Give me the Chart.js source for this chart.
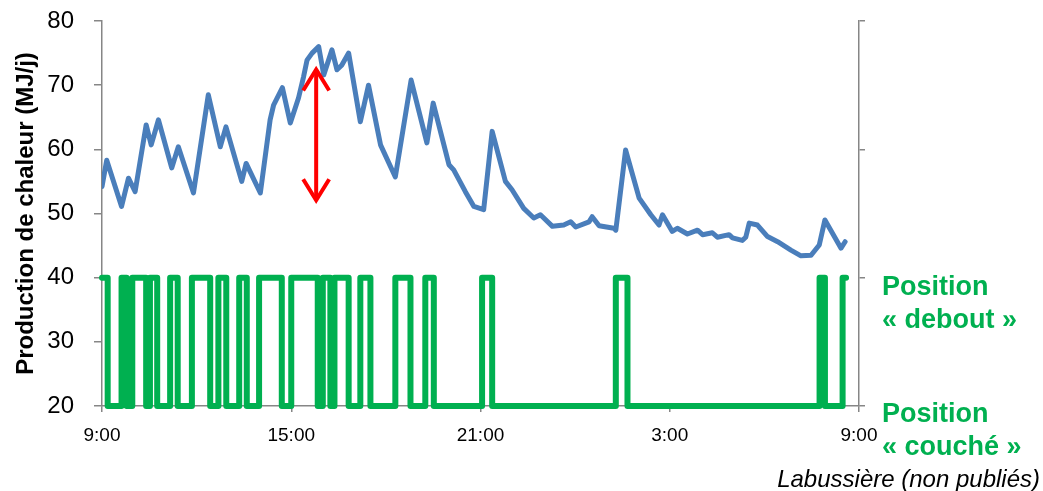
<!DOCTYPE html>
<html>
<head>
<meta charset="utf-8">
<script src="https://cdn.jsdelivr.net/npm/chart.js@4.4.1/dist/chart.umd.min.js"></script>
<style>
  html, body { margin: 0; padding: 0; background: #fff; }
  #wrap { width: 1043px; height: 491px; position: relative; }
</style>
</head>
<body>
<div id="wrap"><canvas id="heatChart"></canvas></div>
<script>
// heat production (MJ/j), time in hours from 9:00 (24 = midnight)
const heatTimes = [
  9.00, 9.15, 9.62, 9.84, 10.05, 10.40, 10.56, 10.79, 11.21, 11.42,
  11.90, 12.37, 12.75, 12.93, 13.43, 13.57, 14.02, 14.33, 14.44, 14.72,
  14.97, 15.23, 15.39, 15.50, 15.66, 15.87, 16.03, 16.29, 16.45, 16.60,
  16.82, 17.19, 17.45, 17.83, 18.30, 18.80, 19.30, 19.50, 20.00, 20.15,
  20.52, 20.79, 21.10, 21.37, 21.79, 22.00, 22.37, 22.69, 22.90, 23.28,
  23.64, 23.86, 24.02, 24.44, 24.54, 24.76, 25.23, 25.29, 25.60, 26.03,
  26.40, 26.66, 26.77, 27.08, 27.24, 27.56, 27.88, 28.04, 28.35, 28.51,
  28.88, 28.99, 29.30, 29.41, 29.52, 29.78, 30.10, 30.42, 30.84, 31.16,
  31.48, 31.74, 31.92, 32.43, 32.56
];
const heatValues = [
  54.2, 58.3, 51.1, 55.5, 53.4, 63.8, 60.7, 64.6, 57.1, 60.4,
  53.2, 68.5, 60.4, 63.5, 55.0, 57.8, 53.2, 64.6, 66.9, 69.6,
  64.1, 68.0, 71.3, 73.9, 75.0, 76.0, 71.6, 75.5, 72.4, 73.1,
  75.0, 64.3, 70.0, 60.7, 55.7, 70.8, 61.0, 67.2, 57.6, 56.8,
  53.4, 51.1, 50.6, 62.8, 55.0, 53.7, 50.8, 49.3, 49.8, 48.0,
  48.2, 48.7, 47.9, 48.7, 49.5, 48.1, 47.7, 47.4, 59.9, 52.4,
  49.8, 48.2, 49.8, 47.2, 47.7, 46.8, 47.4, 46.7, 47.0, 46.3,
  46.7, 46.2, 45.8, 46.3, 48.5, 48.2, 46.4, 45.6, 44.3, 43.4,
  43.5, 45.1, 49.0, 44.6, 45.6
];

// posture: 1 = debout, 0 = couché (state starting at each time)
const postureTimes = [
  9.00, 9.18, 9.62, 9.78, 9.96, 10.40, 10.52, 10.75, 11.16, 11.40,
  11.85, 12.43, 12.69, 12.94, 13.35, 13.59, 13.98, 14.70, 15.00, 15.84,
  16.00, 16.24, 16.37, 16.82, 17.19, 17.51, 18.30, 18.78, 19.25, 19.52,
  21.05, 21.37, 25.29, 25.66, 31.75, 31.92, 32.48, 32.59
];
const postureStates = [
  1, 0, 1, 0, 1, 0, 1, 0, 1, 0,
  1, 0, 1, 0, 1, 0, 1, 0, 1, 0,
  1, 0, 1, 0, 1, 0, 1, 0, 1, 0,
  1, 0, 1, 0, 1, 0, 1, 1
];

const xTickHours = [9, 15, 21, 27, 33];
const yMin = 20, yMax = 80;

// red arrow (amplitude annotation)
const arrowTime = 15.79;
const arrowTop = 72.6;
const arrowBottom = 51.9;

const sourceText = 'Labussière (non publiés)';

const axisGrey = '#868686';

const overlay = {
  id: 'overlay',
  afterDatasetsDraw(chart) {
    const { ctx, scales: { x, y } } = chart;
    const ax = x.getPixelForValue(arrowTime);
    const top = y.getPixelForValue(arrowTop);
    const bot = y.getPixelForValue(arrowBottom);
    ctx.save();
    ctx.strokeStyle = '#FF0000';
    ctx.lineWidth = 4;
    ctx.lineJoin = 'miter';
    ctx.beginPath();
    ctx.moveTo(ax, top + 2);
    ctx.lineTo(ax, bot - 2);
    ctx.stroke();
    ctx.beginPath();
    ctx.moveTo(ax - 13, top + 22);
    ctx.lineTo(ax, top + 1);
    ctx.lineTo(ax + 13, top + 22);
    ctx.moveTo(ax - 13, bot - 22);
    ctx.lineTo(ax, bot - 1);
    ctx.lineTo(ax + 13, bot - 22);
    ctx.stroke();
    ctx.restore();
  },
  afterDraw(chart) {
    const { ctx, chartArea, scales: { y } } = chart;
    const lx = chartArea.right + 23;
    const yUp = y.getPixelForValue(40);
    const yDown = y.getPixelForValue(20);
    ctx.save();
    ctx.fillStyle = '#00B050';
    ctx.font = 'bold 27px "Liberation Sans", Arial, sans-serif';
    ctx.textAlign = 'left';
    ctx.textBaseline = 'alphabetic';
    ctx.fillText('Position', lx, yUp + 17);
    ctx.fillText('« debout »', lx, yUp + 50);
    ctx.fillText('Position', lx, yDown + 16);
    ctx.fillText('« couché »', lx, yDown + 49);

    ctx.fillStyle = '#000';
    ctx.font = 'italic 24px "Liberation Sans", Arial, sans-serif';
    ctx.textAlign = 'right';
    ctx.fillText(sourceText, chart.width - 3, chart.height - 4);
    ctx.restore();
  }
};

const ctx = document.getElementById('heatChart').getContext('2d');
new Chart(ctx, {
  type: 'line',
  data: {
    datasets: [
      {
        label: 'Production de chaleur',
        data: heatTimes.map((t, i) => ({ x: t, y: heatValues[i] })),
        yAxisID: 'y',
        borderColor: '#4A7EBB',
        borderWidth: 5,
        pointRadius: 0,
        borderJoinStyle: 'round',
        borderCapStyle: 'round',
        tension: 0
      },
      {
        label: 'Position',
        data: postureTimes.map((t, i) => ({ x: t, y: postureStates[i] })),
        yAxisID: 'y2',
        stepped: 'before',
        borderColor: '#00B050',
        borderWidth: 6,
        pointRadius: 0,
        borderJoinStyle: 'round',
        borderCapStyle: 'round',
        clip: false
      }
    ]
  },
  options: {
    responsive: true,
    maintainAspectRatio: false,
    animation: false,
    layout: { padding: { top: 21, right: 178, bottom: 45, left: 0 } },
    plugins: { legend: { display: false }, tooltip: { enabled: false } },
    scales: {
      x: {
        type: 'linear',
        min: 9,
        max: 33,
        afterBuildTicks: (axis) => { axis.ticks = xTickHours.map(v => ({ value: v })); },
        ticks: {
          callback: (v) => (v % 24) + ':00',
          font: { family: '"Liberation Sans", Arial, sans-serif', size: 19 },
          color: '#000',
          padding: 12,
          maxRotation: 0
        },
        grid: { drawOnChartArea: false, tickLength: 6, color: axisGrey, lineWidth: 1.5 },
        border: { color: axisGrey, width: 1.5 },
        afterFit: (axis) => { axis.height = 40; }
      },
      y: {
        position: 'left',
        min: yMin,
        max: yMax,
        ticks: {
          stepSize: 10,
          font: { family: '"Liberation Sans", Arial, sans-serif', size: 24 },
          color: '#000',
          padding: 20
        },
        grid: { drawOnChartArea: false, tickLength: 8, color: axisGrey, lineWidth: 1.5 },
        border: { color: axisGrey, width: 1.5 },
        title: {
          display: true,
          text: 'Production de chaleur (MJ/j)',
          font: { family: '"Liberation Sans", Arial, sans-serif', size: 24, weight: 'bold' },
          color: '#000',
          padding: { top: 12, bottom: 0 }
        },
        afterFit: (axis) => {
          axis.width = 102;
          axis.paddingTop = 0;
          axis.paddingBottom = 0;
        }
      },
      y2: {
        position: 'right',
        min: 0,
        max: 3,
        ticks: { display: false, stepSize: 1 },
        grid: { drawOnChartArea: false, tickLength: 6, color: axisGrey, lineWidth: 1.5 },
        border: { color: axisGrey, width: 1.5 },
        afterFit: (axis) => {
          axis.width = 6;
          axis.paddingTop = 0;
          axis.paddingBottom = 0;
        }
      }
    }
  },
  plugins: [overlay]
});
</script>
</body>
</html>
